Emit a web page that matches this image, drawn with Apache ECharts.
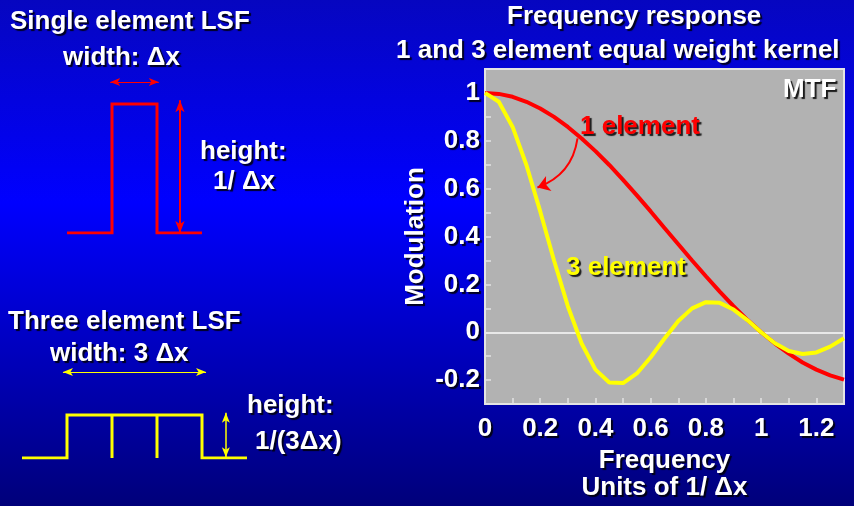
<!DOCTYPE html>
<html>
<head>
<meta charset="utf-8">
<script src="https://cdn.jsdelivr.net/npm/echarts@6/dist/echarts.min.js"></script>
<style>
  html, body { margin: 0; padding: 0; }
  #chart { width: 854px; height: 506px; }
</style>
</head>
<body>
<div id="chart"></div>
<script>
// Frequency axis (units of 1/Δx), sampled every 0.05
const freq = [0, 0.05, 0.1, 0.15, 0.2, 0.25, 0.3, 0.35, 0.4, 0.45, 0.5, 0.55, 0.6,
  0.65, 0.7, 0.75, 0.8, 0.85, 0.9, 0.95, 1.0, 1.05, 1.1, 1.15, 1.2, 1.25, 1.3];
// Modulation of the 1 element kernel
const mtf1 = [1.000, 0.996, 0.984, 0.963, 0.935, 0.900, 0.858, 0.810, 0.757, 0.699, 0.637, 0.572, 0.505,
  0.436, 0.368, 0.300, 0.234, 0.170, 0.109, 0.052, 0.000, -0.047, -0.089, -0.126, -0.156, -0.180, -0.198];
// Modulation of the 3 element equal weight kernel
const mtf3 = [1.000, 0.963, 0.858, 0.699, 0.505, 0.300, 0.109, -0.047, -0.156, -0.210, -0.212, -0.172, -0.104,
  -0.026, 0.047, 0.100, 0.126, 0.123, 0.095, 0.051, 0.000, -0.046, -0.078, -0.091, -0.084, -0.060, -0.025];

// Line spread functions, x in units of Δx, y in units of 1/Δx
const lsf1X = [-1, 0, 0, 1, 1, 2];
const lsf1Y = [0, 0, 1, 1, 0, 0];
const lsf3X = [-2, -1, -1, 2, 2, 3];
const lsf3Y = [0, 0, 0.333, 0.333, 0, 0];
const lsf3Dividers = [0, 1];

// Dimension arrows (start/end points, diagram units)
const width1Arrow = [[-0.04, 1.17], [1.04, 1.17]];
const height1Arrow = [[1.51, 1.03], [1.51, 0.0]];
const width3Arrow = [[-1.09, 0.667], [2.09, 0.667]];
const height3Arrow = [[2.53, 0.35], [2.53, 0.005]];
// Pointer from the "1 element" label down to the 3 element curve
const pointerArrow = [[0.335, 0.81], [0.19, 0.605]];

// Tick labels shown on the MTF axes
const xTickLabels = ['0', '0.2', '0.4', '0.6', '0.8', '1', '1.2'];
const yTickLabels = ['-0.2', '0', '0.2', '0.4', '0.6', '0.8', '1'];

const pairs = (xs, ys) => xs.map((x, i) => [x, ys[i]]);

const FONT_FAMILY = '"Liberation Sans", Arial, sans-serif';
const shadow = { textShadowColor: 'rgba(0,0,0,0.85)', textShadowOffsetX: 2, textShadowOffsetY: 2, textShadowBlur: 1 };

function label(text, x, y, color, align) {
  return {
    type: 'text', x: x, y: y, silent: true,
    style: Object.assign({
      text: text,
      fill: color || '#ffffff',
      font: 'bold 26px ' + FONT_FAMILY,
      align: align || 'left', verticalAlign: 'middle',
      textAlign: align || 'left', textVerticalAlign: 'middle'
    }, shadow)
  };
}

const tickFormatter = list => v => {
  const s = String(+(+v).toFixed(1));
  return list.includes(s) && Math.round(v * 10) % 2 === 0 ? s : '';
};

function arrowLine(points, color, width, size) {
  return [{ coord: points[0], symbol: 'arrow', symbolSize: size, lineStyle: { color: color, width: width, type: 'solid' } },
          { coord: points[1], symbol: 'arrow', symbolSize: size }];
}

const chart = echarts.init(document.getElementById('chart'), null, { renderer: 'canvas' });

const hiddenAxis = (min, max) => ({ type: 'value', min: min, max: max, show: false });

chart.setOption({
  animation: false,
  backgroundColor: new echarts.graphic.LinearGradient(0, 0, 0, 1, [
    { offset: 0, color: '#0606c0' },
    { offset: 0.4, color: '#0000ff' },
    { offset: 1, color: '#00007a' }
  ]),
  textStyle: { fontFamily: FONT_FAMILY },
  grid: [
    { left: 485, top: 69, width: 359, height: 338, show: true, backgroundColor: '#b2b2b2',
      borderColor: '#e4e4e4', borderWidth: 2, containLabel: false },
    // single element diagram: y 0..1.2 with 129 px per unit
    { left: 22, top: 78.2, width: 225, height: 154.8 },
    { left: 22, top: 329, width: 225, height: 129 }
  ],
  xAxis: [
    {
      gridIndex: 0, type: 'value', min: 0, max: 1.3, interval: 0.1,
      name: 'Frequency\nUnits of 1/ Δx', nameLocation: 'middle', nameGap: 41,
      nameTextStyle: Object.assign({ color: '#fff', fontWeight: 'bold', fontSize: 26, lineHeight: 27, verticalAlign: 'top' }, shadow),
      axisLine: { show: true, onZero: false, lineStyle: { color: '#e4e4e4', width: 2 } },
      axisTick: { show: true, inside: true, length: 6, lineStyle: { color: '#e4e4e4', width: 1.5 } },
      axisLabel: Object.assign({ color: '#fff', fontWeight: 'bold', fontSize: 26, margin: 12, formatter: tickFormatter(xTickLabels), showMaxLabel: false }, shadow),
      splitLine: { show: false }
    },
    Object.assign({ gridIndex: 1 }, hiddenAxis(-2, 3)),
    Object.assign({ gridIndex: 2 }, hiddenAxis(-2, 3))
  ],
  yAxis: [
    {
      gridIndex: 0, type: 'value', min: -0.3, max: 1.1, interval: 0.1,
      name: 'Modulation', nameLocation: 'middle', nameGap: 56, nameRotate: 90,
      nameTextStyle: Object.assign({ color: '#fff', fontWeight: 'bold', fontSize: 26 }, shadow),
      axisLine: { show: true, onZero: false, lineStyle: { color: '#e4e4e4', width: 2 } },
      axisTick: { show: true, inside: true, length: 6, lineStyle: { color: '#e4e4e4', width: 1.5 } },
      axisLabel: Object.assign({ color: '#fff', fontWeight: 'bold', fontSize: 26, margin: 5, formatter: tickFormatter(yTickLabels), showMinLabel: false, showMaxLabel: false }, shadow),
      splitLine: { show: false }
    },
    Object.assign({ gridIndex: 1 }, hiddenAxis(0, 1.2)),
    Object.assign({ gridIndex: 2 }, hiddenAxis(0, 1))
  ],
  series: [
    {
      name: '1 element', type: 'line', xAxisIndex: 0, yAxisIndex: 0,
      data: pairs(freq, mtf1), showSymbol: false,
      lineStyle: { color: '#ff0000', width: 4 }, z: 3,
      markLine: {
        silent: true, symbol: 'none', label: { show: false },
        lineStyle: { color: '#e8e8e8', width: 2, type: 'solid' },
        data: [{ yAxis: 0 }], z: 1
      }
    },
    {
      name: '3 element', type: 'line', xAxisIndex: 0, yAxisIndex: 0,
      data: pairs(freq, mtf3), showSymbol: false,
      lineStyle: { color: '#ffff00', width: 4 }, z: 4
    },
    {
      name: 'pointer', type: 'lines', coordinateSystem: 'cartesian2d',
      xAxisIndex: 0, yAxisIndex: 0, silent: true, z: 5,
      symbol: ['none', 'arrow'], symbolSize: 12,
      lineStyle: { color: '#ff0000', width: 2, opacity: 1, curveness: 0.3 },
      data: [{ coords: pointerArrow }]
    },
    {
      name: 'single LSF', type: 'line', xAxisIndex: 1, yAxisIndex: 1,
      data: pairs(lsf1X, lsf1Y), showSymbol: false,
      lineStyle: { color: '#ff0000', width: 3, join: 'miter' },
      markLine: {
        silent: true, label: { show: false },
        data: [arrowLine(width1Arrow, '#ff0000', 1, [6, 10]), arrowLine(height1Arrow, '#ff0000', 2, [7, 12])]
      }
    },
    {
      name: 'three LSF', type: 'line', xAxisIndex: 2, yAxisIndex: 2,
      data: pairs(lsf3X, lsf3Y), showSymbol: false,
      lineStyle: { color: '#ffff00', width: 3, join: 'miter' },
      markLine: {
        silent: true, label: { show: false },
        data: [arrowLine(width3Arrow, '#ffff00', 1, [6, 10]), arrowLine(height3Arrow, '#ffff00', 1.5, [6, 10])]
      }
    }
  ].concat(lsf3Dividers.map(x => ({
    type: 'line', xAxisIndex: 2, yAxisIndex: 2,
    data: [[x, 0], [x, lsf3Y[2]]], showSymbol: false,
    lineStyle: { color: '#ffff00', width: 3 }
  }))),
  graphic: [
    label('Single element LSF', 10, 22),
    label('width: Δx', 63, 58),
    label('height:', 200, 152),
    label('1/ Δx', 213, 182),
    label('Three element LSF', 8, 322),
    label('width: 3 Δx', 50, 354),
    label('height:', 247, 406),
    label('1/(3Δx)', 255, 442),
    label('Frequency response', 507, 17),
    label('1 and 3 element equal weight kernel', 396, 51),
    label('MTF', 783, 90),
    label('1 element', 580, 127, '#ff0000'),
    label('3 element', 566, 268, '#ffff00')
  ]
});
</script>
</body>
</html>
